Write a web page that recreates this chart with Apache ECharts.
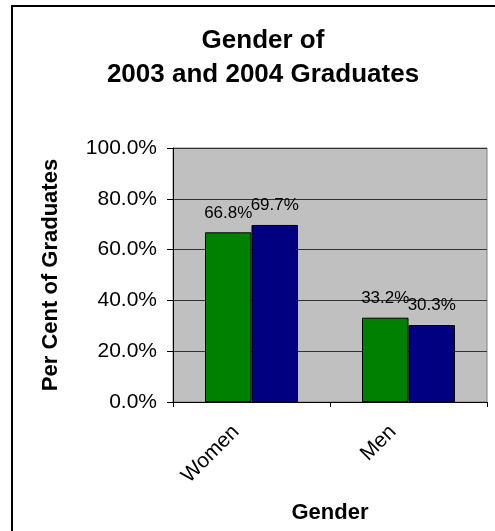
<!DOCTYPE html>
<html>
<head>
<meta charset="utf-8">
<script src="https://cdn.jsdelivr.net/npm/echarts@6/dist/echarts.min.js"></script>
<style>
html,body{margin:0;padding:0;background:#fff;}
#chart{width:495px;height:531px;}
</style>
</head>
<body>
<div id="chart"></div>
<script>
const categories = ['Women', 'Men'];
const series2003 = [66.8, 33.2];
const series2004 = [69.7, 30.3];
const yTicks = [0, 20, 40, 60, 80, 100];

const FONT = '"Liberation Sans", Arial, sans-serif';
const chart = echarts.init(document.getElementById('chart'));

const labelOpt = {
  show: true,
  position: 'top',
  distance: 11,
  fontFamily: FONT,
  fontSize: 17,
  color: '#000',
  formatter: p => p.value.toFixed(1) + '%'
};

chart.setOption({
  animation: false,
  backgroundColor: '#fff',
  title: {
    text: 'Gender of\n2003 and 2004 Graduates',
    left: 258,
    top: 19,
    textAlign: 'center',
    textStyle: {
      fontFamily: FONT,
      fontSize: 26,
      fontWeight: 'bold',
      color: '#000',
      lineHeight: 34
    }
  },
  graphic: [{
    type: 'rect',
    shape: { x: 12, y: 6, width: 700, height: 700 },
    style: { fill: 'none', stroke: '#000', lineWidth: 2 },
    z: 100
  }],
  grid: {
    left: 173,
    right: 8,
    top: 148,
    bottom: 129,
    show: true,
    backgroundColor: '#c0c0c0',
    borderColor: '#808080',
    borderWidth: 1
  },
  xAxis: {
    type: 'category',
    data: categories,
    name: 'Gender',
    nameLocation: 'middle',
    nameGap: 100,
    nameTextStyle: { fontFamily: FONT, fontSize: 22, fontWeight: 'bold', color: '#000' },
    axisLine: { show: true, lineStyle: { color: '#000', width: 1 } },
    axisTick: { show: true, length: 5, lineStyle: { color: '#000' } },
    axisLabel: {
      rotate: 45,
      margin: 11,
      padding: [0, 22, 0, 0],
      fontFamily: FONT,
      fontSize: 21,
      color: '#000'
    },
    splitLine: { show: false }
  },
  yAxis: {
    type: 'value',
    min: 0,
    max: 100,
    interval: 20,
    name: 'Per Cent of Graduates',
    nameLocation: 'middle',
    nameGap: 111,
    nameRotate: 90,
    nameTextStyle: { fontFamily: FONT, fontSize: 22, fontWeight: 'bold', color: '#000' },
    axisLine: { show: true, lineStyle: { color: '#000', width: 1 } },
    axisTick: { show: true, length: 6, lineStyle: { color: '#000' } },
    axisLabel: {
      margin: 16,
      fontFamily: FONT,
      fontSize: 21,
      color: '#000',
      formatter: v => yTicks.includes(v) ? v.toFixed(1) + '%' : ''
    },
    splitLine: { show: true, lineStyle: { color: '#333', width: 1 } }
  },
  series: [
    {
      name: '2003',
      type: 'bar',
      data: series2003,
      barWidth: 46.5,
      barGap: '0%',
      itemStyle: { color: '#008000', borderColor: '#000', borderWidth: 1 },
      label: labelOpt
    },
    {
      name: '2004',
      type: 'bar',
      data: series2004,
      barWidth: 46.5,
      barGap: '0%',
      itemStyle: { color: '#000080', borderColor: '#000', borderWidth: 1 },
      label: labelOpt
    }
  ]
});
</script>
</body>
</html>
